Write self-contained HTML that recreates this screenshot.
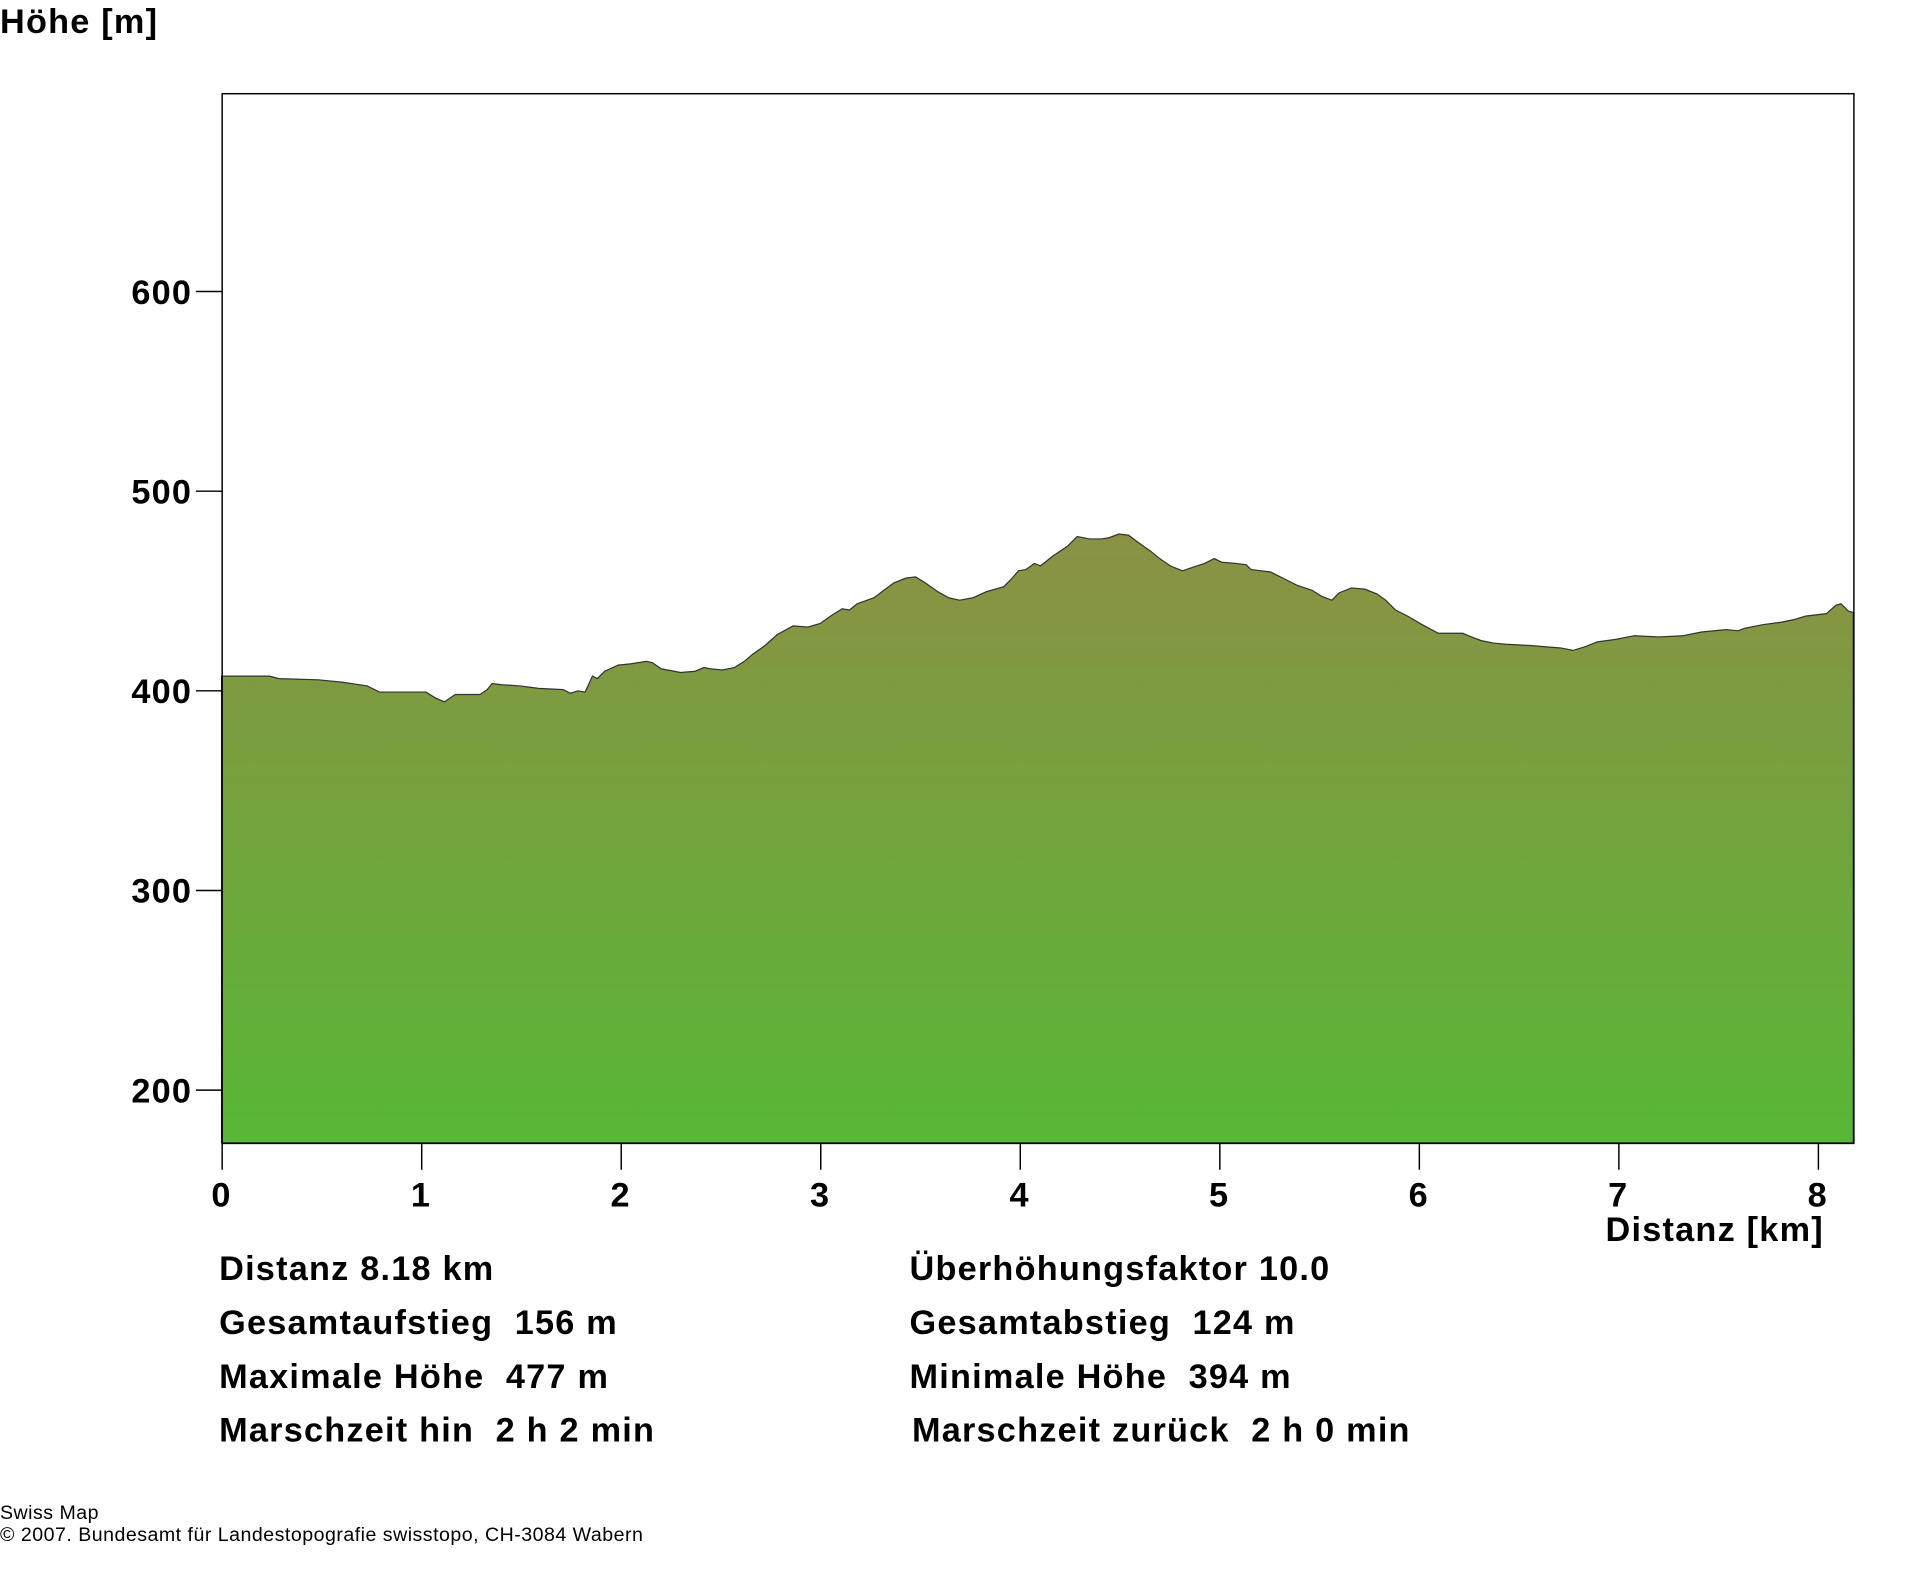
<!DOCTYPE html>
<html><head><meta charset="utf-8"><style>
html,body{margin:0;padding:0;background:#fff;}
svg{display:block;}
text{font-family:"Liberation Sans","DejaVu Sans",sans-serif;fill:#000;}
.b{font-weight:bold;font-size:28px;letter-spacing:1px;}
.f{font-size:16px;letter-spacing:0.4px;}
</style></head><body>
<svg width="1920" height="1572" viewBox="0 0 1568.5 1283.4" preserveAspectRatio="none" xmlns="http://www.w3.org/2000/svg">
<defs><linearGradient id="g" gradientUnits="userSpaceOnUse" x1="0" y1="437" x2="0" y2="933">
<stop offset="0" stop-color="#8b9144"/><stop offset="1" stop-color="#58b736"/></linearGradient></defs>
<text class="b" x="0" y="27">Höhe [m]</text>
<path fill="url(#g)" stroke="#333" stroke-width="1" d="M181,552 L220,552 228,554 260,555 280,557 300,560 310,565 348,565 356,570 363,573 372,567 385,567 392,567 398,563 402,558 410,559 425,560 440,562 460,563 466,566 472,564 478,565 484,552 488,554 494,548 505,543 515,542 528,540 533,541 540,546 556,549 568,548 575,545 580,546 590,547 600,545 608,540 615,534 625,527 635,518 648,511 660,512 670,509 680,502 688,497 694,498 700,493 714,488 722,482 730,476 740,472 748,471 756,476 766,483 775,488 784,490 795,488 806,483 820,479 826,473 832,466 838,465 845,460 850,462 860,454 872,446 876,442 880,438 890,440 900,440 906,439 914,436 922,437 930,443 940,450 946,455 956,462 966,466 972,464 984,460 992,456 998,459 1010,460 1018,461 1022,465 1038,467 1048,472 1060,478 1072,482 1080,487 1088,490 1094,484 1104,480 1115,481 1125,485 1132,490 1140,498 1150,503 1160,509 1175,517 1195,517 1202,520 1210,523 1220,525 1230,526 1250,527 1262,528 1275,529 1285,531 1295,528 1305,524 1320,522 1335,519 1355,520 1375,519 1390,516 1410,514 1420,515 1425,513 1440,510 1455,508 1465,506 1475,503 1492,501 1500,494 1504,493 1510,499 1514,500 L1514,933 L181,933 Z"/>
<rect x="181.5" y="76.5" width="1333" height="857" fill="none" stroke="#000" stroke-width="1.2"/>
<g stroke="#000" stroke-width="1.2">
<line x1="160" y1="238" x2="181" y2="238"/><line x1="160" y1="401" x2="181" y2="401"/>
<line x1="160" y1="564" x2="181" y2="564"/><line x1="160" y1="727" x2="181" y2="727"/>
<line x1="160" y1="890" x2="181" y2="890"/>
<line x1="181.5" y1="933" x2="181.5" y2="955"/><line x1="344.5" y1="933" x2="344.5" y2="955"/>
<line x1="507.5" y1="933" x2="507.5" y2="955"/><line x1="670.5" y1="933" x2="670.5" y2="955"/>
<line x1="833.5" y1="933" x2="833.5" y2="955"/><line x1="996.5" y1="933" x2="996.5" y2="955"/>
<line x1="1159.5" y1="933" x2="1159.5" y2="955"/><line x1="1322.5" y1="933" x2="1322.5" y2="955"/>
<line x1="1485.5" y1="933" x2="1485.5" y2="955"/>
</g>
<text class="b" x="157" y="248" text-anchor="end">600</text><text class="b" x="157" y="411" text-anchor="end">500</text>
<text class="b" x="157" y="574" text-anchor="end">400</text><text class="b" x="157" y="737" text-anchor="end">300</text>
<text class="b" x="157" y="900" text-anchor="end">200</text>
<text class="b" x="181" y="985" text-anchor="middle">0</text><text class="b" x="344" y="985" text-anchor="middle">1</text>
<text class="b" x="507" y="985" text-anchor="middle">2</text><text class="b" x="670" y="985" text-anchor="middle">3</text>
<text class="b" x="833" y="985" text-anchor="middle">4</text><text class="b" x="996" y="985" text-anchor="middle">5</text>
<text class="b" x="1159" y="985" text-anchor="middle">6</text><text class="b" x="1322" y="985" text-anchor="middle">7</text>
<text class="b" x="1485" y="985" text-anchor="middle">8</text>
<text class="b" x="1490" y="1013" text-anchor="end">Distanz [km]</text>
<text class="b" x="179" y="1045">Distanz 8.18 km</text>
<text class="b" x="179" y="1089" xml:space="preserve">Gesamtaufstieg  156 m</text>
<text class="b" x="179" y="1133" xml:space="preserve">Maximale Höhe  477 m</text>
<text class="b" x="179" y="1177" xml:space="preserve">Marschzeit hin  2 h 2 min</text>
<text class="b" x="743" y="1045">Überhöhungsfaktor 10.0</text>
<text class="b" x="743" y="1089" xml:space="preserve">Gesamtabstieg  124 m</text>
<text class="b" x="743" y="1133" xml:space="preserve">Minimale Höhe  394 m</text>
<text class="b" x="745" y="1177" xml:space="preserve">Marschzeit zurück  2 h 0 min</text>
<text class="f" x="0" y="1240">Swiss Map</text>
<text class="f" x="0" y="1258">© 2007. Bundesamt für Landestopografie swisstopo, CH-3084 Wabern</text>
</svg>
</body></html>
